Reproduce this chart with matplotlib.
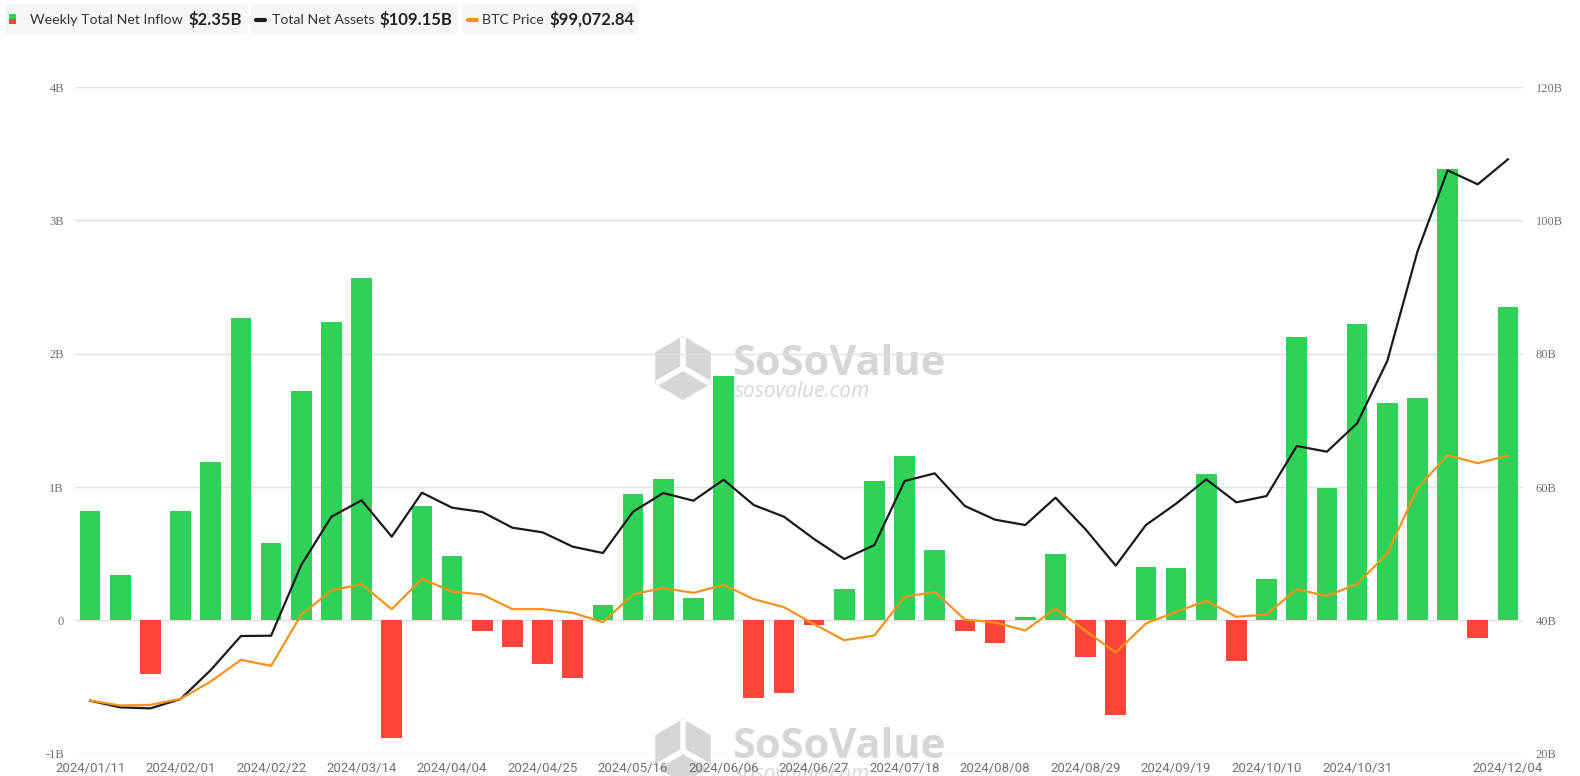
import numpy as np
import matplotlib
matplotlib.use("Agg")
import matplotlib.pyplot as plt
from matplotlib import transforms
from matplotlib.patches import FancyBboxPatch, Rectangle, RegularPolygon

# weekly data, 2024
dates = ["2024/01/11", "2024/01/18", "2024/01/25", "2024/02/01", "2024/02/08", "2024/02/15",
         "2024/02/22", "2024/02/29", "2024/03/07", "2024/03/14", "2024/03/21", "2024/03/28",
         "2024/04/04", "2024/04/11", "2024/04/18", "2024/04/25", "2024/05/02", "2024/05/09",
         "2024/05/16", "2024/05/23", "2024/05/30", "2024/06/06", "2024/06/13", "2024/06/20",
         "2024/06/27", "2024/07/04", "2024/07/11", "2024/07/18", "2024/07/25", "2024/08/01",
         "2024/08/08", "2024/08/15", "2024/08/22", "2024/08/29", "2024/09/05", "2024/09/12",
         "2024/09/19", "2024/09/26", "2024/10/03", "2024/10/10", "2024/10/17", "2024/10/24",
         "2024/10/31", "2024/11/07", "2024/11/14", "2024/11/21", "2024/11/28", "2024/12/04"]

# weekly total net inflow, billions USD
inflow = [0.82, 0.34, -0.405, 0.82, 1.19, 2.27, 0.58, 1.72, 2.235, 2.57,
          -0.885, 0.86, 0.4825, -0.0825, -0.2025, -0.3275, -0.4325, 0.115, 0.9475, 1.06,
          0.17, 1.83, -0.58, -0.5425, -0.035, 0.235, 1.0425, 1.235, 0.53, -0.08,
          -0.17, 0.0275, 0.50, -0.2775, -0.7075, 0.3975, 0.39, 1.10, -0.3025, 0.3075,
          2.1275, 0.995, 2.22, 1.6325, 1.67, 3.3825, -0.135, 2.35]

# total net assets, billions USD
net_assets = [27.95, 26.95, 26.8, 28.2, 32.55, 37.65, 37.7, 48.3, 55.55, 58.0,
              52.55, 59.15, 56.9, 56.25, 53.9, 53.2, 51.05, 50.1, 56.3, 59.1,
              57.95, 61.1, 57.3, 55.55, 52.2, 49.2, 51.3, 60.9, 62.05, 57.15,
              55.1, 54.3, 58.4, 53.65, 48.2, 54.3, 57.5, 61.15, 57.7, 58.65,
              66.15, 65.3, 69.55, 78.9, 95.3, 107.5, 105.4, 109.15]

# BTC price, USD
btc = [46480, 45410, 45550, 46840, 50570, 55220, 53930, 64890, 70110, 71470,
       66100, 72620, 69900, 69250, 66100, 66100, 65320, 63310, 69320, 70610,
       69610, 71330, 68250, 66530, 62880, 59440, 60450, 68750, 69830, 63880,
       63240, 61520, 66250, 61450, 56790, 63020, 65530, 67890, 64460, 64960,
       70400, 68900, 71540, 77990, 92090, 99180, 97460, 99072.84]

left_ticks = [-1, 0, 1, 2, 3, 4]
left_labels = ["-1B", "0", "1B", "2B", "3B", "4B"]
right_ticks = [20, 40, 60, 80, 100, 120]
right_labels = ["20B", "40B", "60B", "80B", "100B", "120B"]
shown_dates = [0, 3, 6, 9, 12, 15, 18, 21, 24, 27, 30, 33, 36, 39, 42, 47]

GREEN = "#30d158"
RED = "#ff453a"
BLACK = "#1a1a1a"
ORANGE = "#f7931a"
GRAY = "#6e7079"
W, H = 1580, 776

fig = plt.figure(figsize=(W / 100, H / 100), dpi=100)
pix = transforms.Affine2D().scale(1 / W, -1 / H).translate(0, 1) + fig.transFigure

ax = fig.add_axes([75 / W, 1 - 753.7 / H, (1523 - 75) / W, (753.7 - 87) / H])
ax.set_facecolor("none")
x = np.arange(len(dates))
colors = [GREEN if v >= 0 else RED for v in inflow]
ax.bar(x, inflow, width=0.69, color=colors, zorder=2)
ax.set_xlim(-0.5, len(dates) - 0.5)
ax.set_ylim(-1, 4)
ax.set_yticks(left_ticks)
ax.set_yticklabels(left_labels, family="Liberation Serif", fontsize=9, color=GRAY)
ax.set_xticks([x[i] for i in shown_dates])
ax.set_xticklabels([dates[i] for i in shown_dates], family="Roboto", fontsize=9.5, color=GRAY)
ax.tick_params(axis="both", length=0)
ax.tick_params(axis="y", pad=8)
ax.tick_params(axis="x", pad=6)
ax.grid(axis="y", color="#e0e0e0", linewidth=1, zorder=0)
for s in ax.spines.values():
    s.set_visible(False)

ax2 = ax.twinx()
ax2.plot(x, net_assets, color=BLACK, linewidth=1.6, zorder=3)
ax2.set_ylim(20, 120)
ax2.set_yticks(right_ticks)
ax2.set_yticklabels(right_labels, family="Liberation Serif", fontsize=9, color=GRAY)
ax2.tick_params(axis="y", length=0, pad=9)
for s in ax2.spines.values():
    s.set_visible(False)

ax3 = ax.twinx()
ax3.plot(x, btc, color=ORANGE, linewidth=1.6, zorder=3)
ax3.set_ylim(35060, 178260)
ax3.axis("off")

# watermarks
for dy in (0, 383):
    hexa = RegularPolygon((683, 368 + dy), numVertices=6, radius=32, orientation=0,
                          facecolor="#d6d6d6", edgecolor="none", transform=pix, zorder=-2)
    fig.add_artist(hexa)
    for ang in (90, 210, 330):
        a = np.deg2rad(ang)
        fig.add_artist(plt.Line2D([683, 683 + 28 * np.cos(a)], [368 + dy, 368 + dy - 28 * np.sin(a)],
                                  color="white", linewidth=4, transform=pix, zorder=-1))
    fig.text(732 / W, 1 - (375 + dy) / H, "SoSoValue", family="Open Sans", weight="bold",
             fontsize=30, color="#d6d6d6", ha="left", va="baseline", zorder=-1)
    fig.text(735 / W, 1 - (397 + dy) / H, "sosovalue.com", family="Open Sans", style="italic",
             fontsize=15, color="#d6d6d6", ha="left", va="baseline", zorder=-1)

# legend row
for x0, x1 in [(5, 248), (251, 458), (462, 639)]:
    fig.add_artist(FancyBboxPatch((x0 + 4, 4 + 4), x1 - x0 - 8, 30 - 8,
                                  boxstyle="round,pad=4,rounding_size=5",
                                  facecolor="#f6f6f6", edgecolor="none", transform=pix))
fig.add_artist(Rectangle((8.5, 14), 7.5, 5, facecolor=GREEN, edgecolor="none", transform=pix))
fig.add_artist(Rectangle((8.5, 19), 7.5, 5, facecolor=RED, edgecolor="none", transform=pix))
fig.add_artist(plt.Line2D([256, 265], [19.5, 19.5], color=BLACK, linewidth=3,
                          solid_capstyle="round", transform=pix))
fig.add_artist(plt.Line2D([468, 477], [19.5, 19.5], color=ORANGE, linewidth=3,
                          solid_capstyle="round", transform=pix))

legend_items = [(29.5, "Weekly Total Net Inflow", "$2.35B"),
                (271.5, "Total Net Assets", "$109.15B"),
                (482, "BTC Price", "$99,072.84")]
renderer = fig.canvas.get_renderer()
for lx, lab, val in legend_items:
    t = fig.text(lx / W, 1 - 19.5 / H, lab, family="Lato", fontsize=10.2, color="#333333",
                 ha="left", va="center")
    end = t.get_window_extent(renderer).x1
    fig.text((end + 6) / W, 1 - 19.5 / H, val, family="Lato", weight="bold", fontsize=12,
             color="#222222", ha="left", va="center")

fig.savefig("out.png", dpi=100)
